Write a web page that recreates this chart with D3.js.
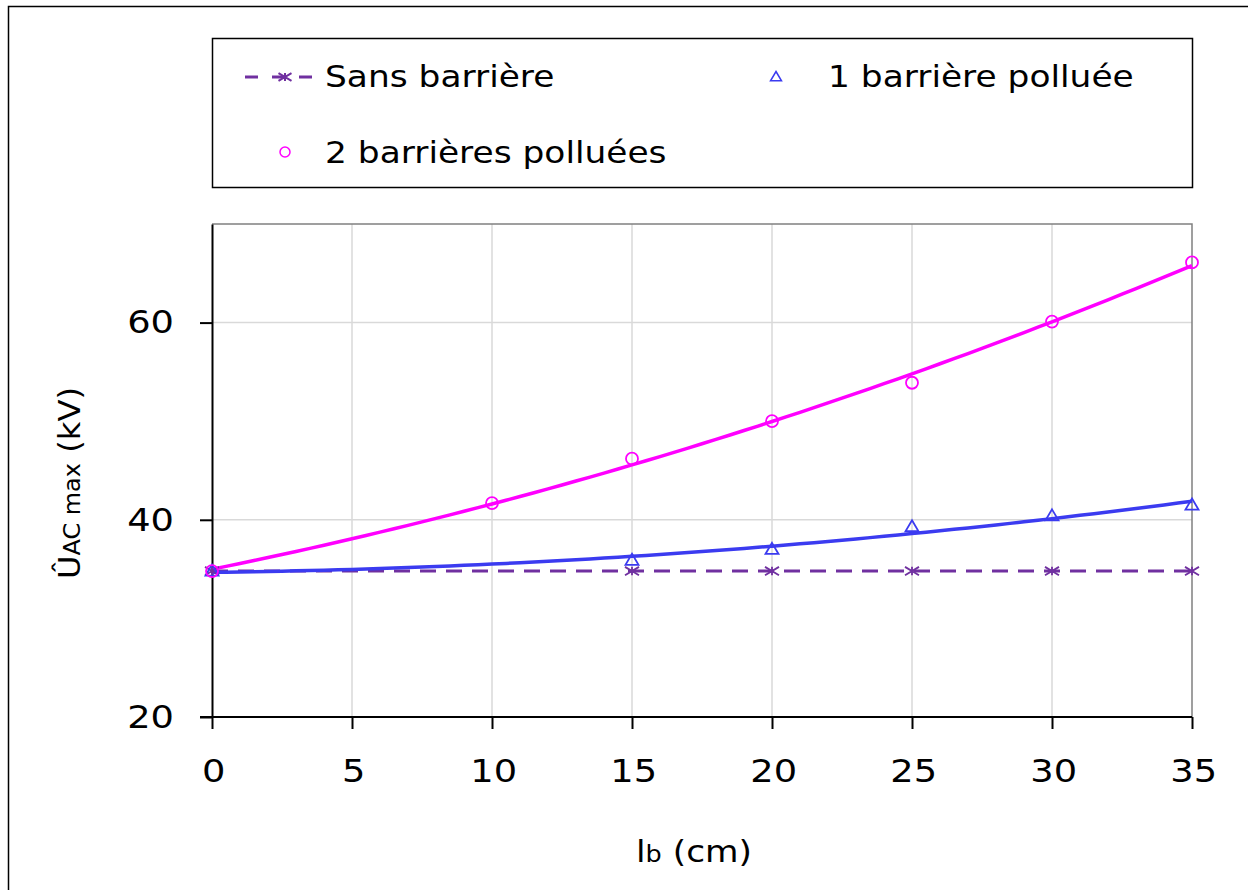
<!DOCTYPE html>
<html>
<head>
<meta charset="utf-8">
<script src="https://cdn.jsdelivr.net/npm/d3@7"></script>
<style>
	body { margin: 0; background: #fff; }
	text { font-family: "DejaVu Sans", Verdana, sans-serif; fill: #000; }
</style>
</head>
<body>
<div id="chart"></div>
<script>
var width = 1248,
	height = 890;

// data
var lb = [0, 15, 20, 25, 30, 35];
var sansBarriere = [34.8, 34.8, 34.8, 34.8, 34.8, 34.8];

var lb1 = [0, 15, 20, 25, 30, 35];
var uneBarriere = [34.8, 35.9, 37.0, 39.3, 40.4, 41.5];

var lb2 = [0, 10, 15, 20, 25, 30, 35];
var deuxBarrieres = [34.8, 41.7, 46.2, 50.0, 53.9, 60.1, 66.1];

var xTicks = [0, 5, 10, 15, 20, 25, 30, 35];
var yTicks = [20, 40, 60];

var colSans = '#7030a0',
	colUne = '#3b3bf0',
	colDeux = '#ff00ff';

var margin = {left: 212, right: 56, top: 224, bottom: 173};
var STRETCH = 1.11; // the original font is wider than DejaVu

var svg = d3.select('#chart').append('svg')
	.attr('width', width)
	.attr('height', height);

// outer chart border
svg.append('rect')
	.attr('x', 8.5).attr('y', 6.5)
	.attr('width', 1250).attr('height', 900)
	.style('fill', 'none')
	.style('stroke', '#000')
	.style('stroke-width', 1.5);

var x = d3.scaleLinear()
	.domain([0, 35])
	.range([margin.left, width - margin.right]);

var y = d3.scaleLinear()
	.domain([20, 70])
	.range([height - margin.bottom, margin.top]);

// gridlines
var grid = svg.append('g');
grid.selectAll('line.vx')
	.data(xTicks.filter(d => d > 0 && d < 35))
	.enter().append('line')
	.attr('x1', d => x(d)).attr('x2', d => x(d))
	.attr('y1', y(20)).attr('y2', y(70))
	.style('stroke', '#d9d9d9').style('stroke-width', 1.5);
grid.selectAll('line.hy')
	.data(yTicks.filter(d => d > 20))
	.enter().append('line')
	.attr('x1', x(0)).attr('x2', x(35))
	.attr('y1', d => y(d)).attr('y2', d => y(d))
	.style('stroke', '#d9d9d9').style('stroke-width', 1.5);

// plot frame top/right
svg.append('path')
	.attr('d', 'M' + x(0) + ',' + y(70) + 'H' + x(35) + 'V' + y(20))
	.style('fill', 'none')
	.style('stroke', '#808080')
	.style('stroke-width', 1.5);

// axes
var xAxis = svg.append('g')
	.attr('transform', 'translate(0,' + y(20) + ')')
	.call(d3.axisBottom(x).tickValues(xTicks).tickSize(12).tickSizeOuter(0).tickPadding(30));
var yAxis = svg.append('g')
	.attr('transform', 'translate(' + x(0) + ',0)')
	.call(d3.axisLeft(y).tickValues(yTicks).tickSize(12).tickSizeOuter(0).tickPadding(22));

[xAxis, yAxis].forEach(function(a) {
	a.select('.domain').style('stroke', '#000').style('stroke-width', 2);
	a.selectAll('.tick line').style('stroke', '#000').style('stroke-width', 2);
	a.selectAll('.tick text')
		.style('font-family', '"DejaVu Sans", Verdana, sans-serif')
		.style('font-size', '32px')
		.style('fill', '#000')
		.attr('transform', 'scale(1.15,1)');
});
xAxis.select('.domain').attr('d', 'M' + (x(0) - 12) + ',0H' + x(35));
xAxis.selectAll('.tick text').attr('dx', '1px');
yAxis.selectAll('.tick text').attr('x', -38 / 1.15);

// quadratic least squares fit of the read points (Excel-style trendline)
function quadFit(xs, ys) {
	var s = [0, 0, 0, 0, 0], t = [0, 0, 0];
	xs.forEach(function(xv, i) {
		for (var k = 0; k < 5; k++) s[k] += Math.pow(xv, k);
		for (var k = 0; k < 3; k++) t[k] += ys[i] * Math.pow(xv, k);
	});
	var m = [[s[0], s[1], s[2], t[0]], [s[1], s[2], s[3], t[1]], [s[2], s[3], s[4], t[2]]];
	for (var i = 0; i < 3; i++) {
		for (var j = i + 1; j < 3; j++) {
			var f = m[j][i] / m[i][i];
			for (var k = i; k < 4; k++) m[j][k] -= f * m[i][k];
		}
	}
	var c = [0, 0, 0];
	for (var i = 2; i >= 0; i--) {
		var v = m[i][3];
		for (var k = i + 1; k < 3; k++) v -= m[i][k] * c[k];
		c[i] = v / m[i][i];
	}
	return function(xv) { return c[0] + c[1] * xv + c[2] * xv * xv; };
}

var line = d3.line()
	.x(d => x(d[0]))
	.y(d => y(d[1]));

var fineX = d3.range(0, 35.01, 0.5);

// sans barriere dashed line
svg.append('path')
	.attr('d', line(lb.map((d, i) => [d, sansBarriere[i]])))
	.style('fill', 'none')
	.style('stroke', colSans)
	.style('stroke-width', 3)
	.style('stroke-dasharray', '16,10');

var fit1 = quadFit(lb1, uneBarriere);
svg.append('path')
	.attr('d', line(fineX.map(d => [d, fit1(d)])))
	.style('fill', 'none')
	.style('stroke', colUne)
	.style('stroke-width', 3.5);

var fit2 = quadFit(lb2, deuxBarrieres);
svg.append('path')
	.attr('d', line(fineX.map(d => [d, fit2(d)])))
	.style('fill', 'none')
	.style('stroke', colDeux)
	.style('stroke-width', 3.5);

// markers
function crossPath(cx, cy, r) {
	return 'M' + (cx - r) + ',' + (cy - r * 0.6) + 'L' + (cx + r) + ',' + (cy + r * 0.6)
		+ 'M' + (cx - r) + ',' + (cy + r * 0.6) + 'L' + (cx + r) + ',' + (cy - r * 0.6)
		+ 'M' + cx + ',' + (cy - r * 0.6) + 'V' + (cy + r * 0.6);
}
function triPath(cx, cy, r) {
	return 'M' + cx + ',' + (cy - r) + 'L' + (cx + r) + ',' + (cy + r * 0.7)
		+ 'L' + (cx - r) + ',' + (cy + r * 0.7) + 'Z';
}

svg.append('g').selectAll('path')
	.data(lb.map((d, i) => [d, sansBarriere[i]]))
	.enter().append('path')
	.attr('d', d => crossPath(x(d[0]), y(d[1]), 7))
	.style('fill', 'none').style('stroke', colSans).style('stroke-width', 1.8);

svg.append('g').selectAll('path')
	.data(lb1.map((d, i) => [d, uneBarriere[i]]))
	.enter().append('path')
	.attr('d', d => triPath(x(d[0]), y(d[1]), 6.5))
	.style('fill', 'none').style('stroke', colUne).style('stroke-width', 1.8);

svg.append('g').selectAll('circle')
	.data(lb2.map((d, i) => [d, deuxBarrieres[i]]))
	.enter().append('circle')
	.attr('cx', d => x(d[0]))
	.attr('cy', d => y(d[1]))
	.attr('r', 6)
	.style('fill', 'none').style('stroke', colDeux).style('stroke-width', 1.8);

// legend
var legend = svg.append('g');
legend.append('rect')
	.attr('x', 212.5).attr('y', 38.5)
	.attr('width', 980).attr('height', 149)
	.style('fill', '#fff').style('stroke', '#000').style('stroke-width', 1.5);

function stretchedText(g, tx, ty, label, size) {
	return g.append('text')
		.attr('transform', 'translate(' + tx + ',' + ty + ') scale(' + STRETCH + ',1)')
		.style('font-size', size + 'px')
		.text(label);
}

legend.append('line')
	.attr('x1', 245).attr('x2', 322).attr('y1', 77).attr('y2', 77)
	.style('stroke', colSans).style('stroke-width', 3)
	.style('stroke-dasharray', '13,14');
legend.append('path')
	.attr('d', crossPath(285, 77, 6.5))
	.style('fill', 'none').style('stroke', colSans).style('stroke-width', 2);
stretchedText(legend, 325, 87, 'Sans barrière', 31);

legend.append('path')
	.attr('d', triPath(776, 77, 5.5))
	.style('fill', 'none').style('stroke', colUne).style('stroke-width', 1.5);
stretchedText(legend, 828, 87, '1 barrière polluée', 31);

legend.append('circle')
	.attr('cx', 285).attr('cy', 152).attr('r', 5)
	.style('fill', 'none').style('stroke', colDeux).style('stroke-width', 1.5);
stretchedText(legend, 325, 163, '2 barrières polluées', 31);

// axis titles
var xt = svg.append('text')
	.attr('transform', 'translate(694,862) scale(' + STRETCH + ',1)')
	.attr('text-anchor', 'middle')
	.style('font-size', '31px');
xt.append('tspan').text('l');
xt.append('tspan').style('font-size', '23px').text('b');
xt.append('tspan').text(' (cm)');

var yt = svg.append('text')
	.attr('transform', 'translate(80,483) rotate(-90) scale(1.04,1)')
	.attr('text-anchor', 'middle')
	.style('font-size', '31px');
yt.append('tspan').text('Û');
yt.append('tspan').style('font-size', '23px').text('AC max');
yt.append('tspan').text(' (kV)');
</script>
</body>
</html>
